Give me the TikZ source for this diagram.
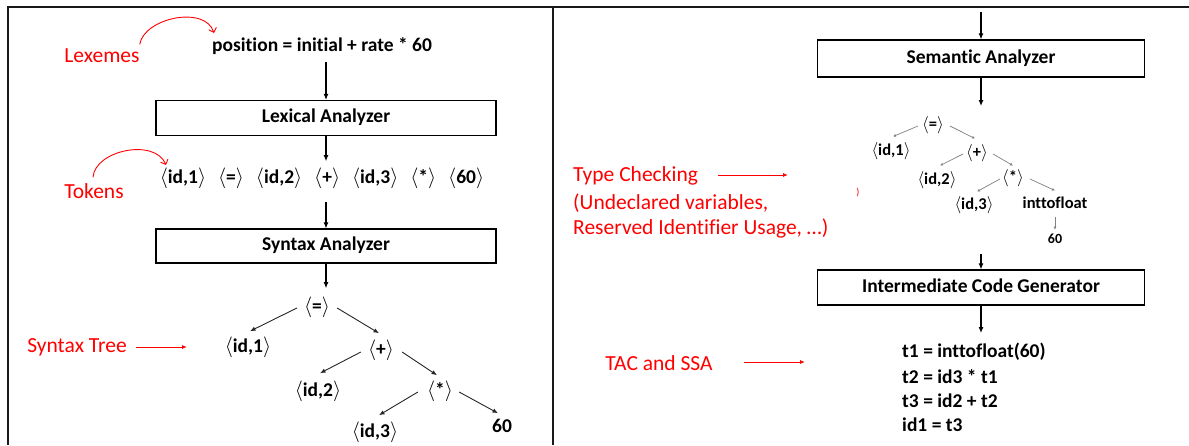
\documentclass[tikz,border=0pt]{standalone}
\usepackage{fontspec}
\setmainfont[Ligatures={NoCommon}]{Carlito}
\usetikzlibrary{arrows.meta,calc}
\newcommand\tok[1]{$\langle$#1$\rangle$}
\begin{document}
\begin{tikzpicture}[x=1pt,y=-1pt,
  txt/.style={inner sep=0pt, text height=13.3pt, text depth=3.9pt,
    font=\fontsize{19.5}{23}\selectfont\bfseries},
  smalltxt/.style={inner sep=0pt, text height=11.2pt, text depth=3.3pt,
    font=\fontsize{16.5}{20}\selectfont\bfseries},
  lbl/.style={inner sep=0pt, text height=14.6pt, text depth=4.3pt, text=red,
    font=\fontsize{21.5}{26}\selectfont},
  stage/.style={draw, line width=1.2pt, inner sep=0pt, minimum height=35pt,
    font=\fontsize{19.5}{23}\selectfont\bfseries, text height=13.3pt, text depth=3.9pt},
  arr/.style={line width=1.1pt, -{Latex[length=6pt,width=5pt]}},
  tarr/.style={line width=0.9pt, black!85, -{Latex[length=5.5pt,width=4.5pt]}},
  garr/.style={line width=0.7pt, black!50, -{Latex[length=3pt,width=3pt]}},
  redarr/.style={line width=0.9pt, red, -{Latex[length=5pt,width=4pt]}},
  redcurve/.style={line width=0.9pt, red, -{Straight Barb[length=4pt,width=8pt]}},
  frame/.style={line width=2pt, black!90}
]
\useasboundingbox (0,0) rectangle (1189,445);

% panel frames
\draw[frame] (8,445) -- (8,7) -- (1189,7);
\draw[frame] (552.5,7) -- (552.5,445);

% ---------------- front end: lexical and syntax analysis ----------------
\node[lbl] (lexemes) at (102,57) {Lexemes};
\node[txt] (expr) at (322,47) {position = initial + rate * 60};
\coordinate (lexTip) at (214,33);
\draw[redcurve] ($(lexemes.north east)+(0,-3)$) .. controls (144,18) and (205,5) .. (lexTip);

\node[stage, minimum width=340pt] (lex) at (326,118) {Lexical Analyzer};
\draw[arr] ($(lex.north |- expr.south)+(0,6)$) -- (lex.north);

\node[lbl] (tokens) at (94,193) {Tokens};
\node[txt] (toks) at (322,179) {\tok{id,1}\hspace{12pt}\tok{=}\hspace{12pt}\tok{id,2}\hspace{12pt}\tok{+}\hspace{12pt}\tok{id,3}\hspace{12pt}\tok{*}\hspace{12pt}\tok{60}};
\coordinate (tokTip) at (166,165);
\draw[redcurve] ($(tokens.north)+(-1,-6)$) .. controls (95,150) and (155,138) .. (tokTip);
\draw[arr] (lex.south) -- ($(lex.south |- toks.north)+(0,-9)$);

\node[stage, minimum width=340pt, minimum height=34pt] (syn) at (326,246) {Syntax Analyzer};
\draw[arr] ($(syn.north |- toks.south)+(0,14)$) -- (syn.north);

% syntax tree
\node[txt] (eq)    at (317,308) {\tok{=}};
\node[txt] (id1)   at (248,348) {\tok{id,1}};
\node[txt] (plus)  at (381,351) {\tok{+}};
\node[txt] (id2)   at (318,392) {\tok{id,2}};
\node[txt] (star)  at (440,392) {\tok{*}};
\node[txt] (id3)   at (375,433) {\tok{id,3}};
\node[txt] (sixty) at (502,428) {60};
\draw[arr] (syn.south) -- ($(syn.south |- eq.north)+(0,-11)$);

\draw[tarr] ($(eq.west)+(-7,0)$)   -- ($(id1.north)+(2,-8)$);
\draw[tarr] ($(eq.east)+(7,0)$)    -- ($(plus.north)+(-2,-9)$);
\draw[tarr] ($(plus.west)+(-7,1)$) -- ($(id2.north)+(2,-10)$);
\draw[tarr] ($(plus.east)+(8,1)$)  -- ($(star.north)+(-3,-8)$);
\draw[tarr] ($(star.west)+(-9,0)$) -- ($(id3.north)+(4,-9)$);
\draw[tarr] ($(star.east)+(6,0)$)  -- ($(sixty.north)+(-4,-6)$);

\node[lbl] (syntree) at (77,347) {Syntax Tree};
\coordinate (stTip) at (187,347);
\draw[redarr] ($(syntree.east)+(9,0)$) -- (stTip);

% ---------------- semantic analysis and intermediate code ----------------
\coordinate (semIn) at (981,12);
\node[stage, minimum width=327pt, minimum height=37pt] (sem) at (981,58.5) {Semantic Analyzer};
\draw[arr] (semIn) -- (sem.north);
\coordinate (semOut) at (981,106);
\draw[arr] (sem.south) -- (semOut);

% annotated tree
\node[smalltxt] (req)    at (933,126) {\tok{=}};
\node[smalltxt] (rid1)   at (891,152) {\tok{id,1}};
\node[smalltxt] (rplus)  at (977,154) {\tok{+}};
\node[smalltxt] (rid2)   at (937,181) {\tok{id,2}};
\node[smalltxt] (rstar)  at (1013,179) {\tok{*}};
\node[smalltxt] (rid3)   at (974,206) {\tok{id,3}};
\node[smalltxt] (itf)    at (1055,205) {inttofloat};
\node[smalltxt, font=\fontsize{14}{16}\selectfont\bfseries] (rsixty) at (1055,240) {60};

\draw[garr] ($(req.west)+(-4,0)$)   -- ($(rid1.north)+(2,-8)$);
\draw[garr] ($(req.east)+(6,0)$)    -- ($(rplus.north)+(-2,-8)$);
\draw[garr] ($(rplus.west)+(-3,0)$) -- ($(rid2.north)+(3,-8)$);
\draw[garr] ($(rplus.east)+(5,0)$)  -- ($(rstar.north)+(0,-6)$);
\draw[garr] ($(rstar.west)+(-2,0)$) -- ($(rid3.north)+(3,-7)$);
\draw[garr] ($(rstar.east)+(6,0)$)  -- ($(itf.north)+(0,-7)$);
\draw[garr] ($(itf.south)+(0,5)$)   -- ($(rsixty.north)+(0,-3)$);

\node[inner sep=0pt, text=red, font=\fontsize{10}{12}\selectfont] (mark) at (858,193) {)};

\node[lbl, anchor=west] (tc1) at (573,176) {Type Checking};
\node[lbl, anchor=west] (tc2) at (573,204) {(Undeclared variables,};
\node[lbl, anchor=west] (tc3) at (573,229) {Reserved Identifier Usage, …)};
\coordinate (tcTip) at (788,175);
\draw[redarr] ($(tc1.east)+(20,-1)$) -- (tcTip);

\coordinate (icgIn) at (981,254);
\node[stage, minimum width=327pt, minimum height=35pt] (icg) at (981,287.5) {Intermediate Code Generator};
\draw[arr] (icgIn) -- (icg.north);
\coordinate (tacIn) at (981,333);
\draw[arr] (icg.south) -- (tacIn);

% three-address code
\node[txt, anchor=west] (c1) at (902,353) {t1 = inttofloat(60)};
\node[txt, anchor=west] (c2) at (902,379) {t2 = id3 * t1};
\node[txt, anchor=west] (c3) at (902,403) {t3 = id2 + t2};
\node[txt, anchor=west] (c4) at (902,427) {id1 = t3};

\node[lbl] (tac) at (659,365) {TAC and SSA};
\coordinate (tacTip) at (805,362);
\draw[redarr] ($(tac.east)+(31,-3)$) -- (tacTip);
\end{tikzpicture}
\end{document}
